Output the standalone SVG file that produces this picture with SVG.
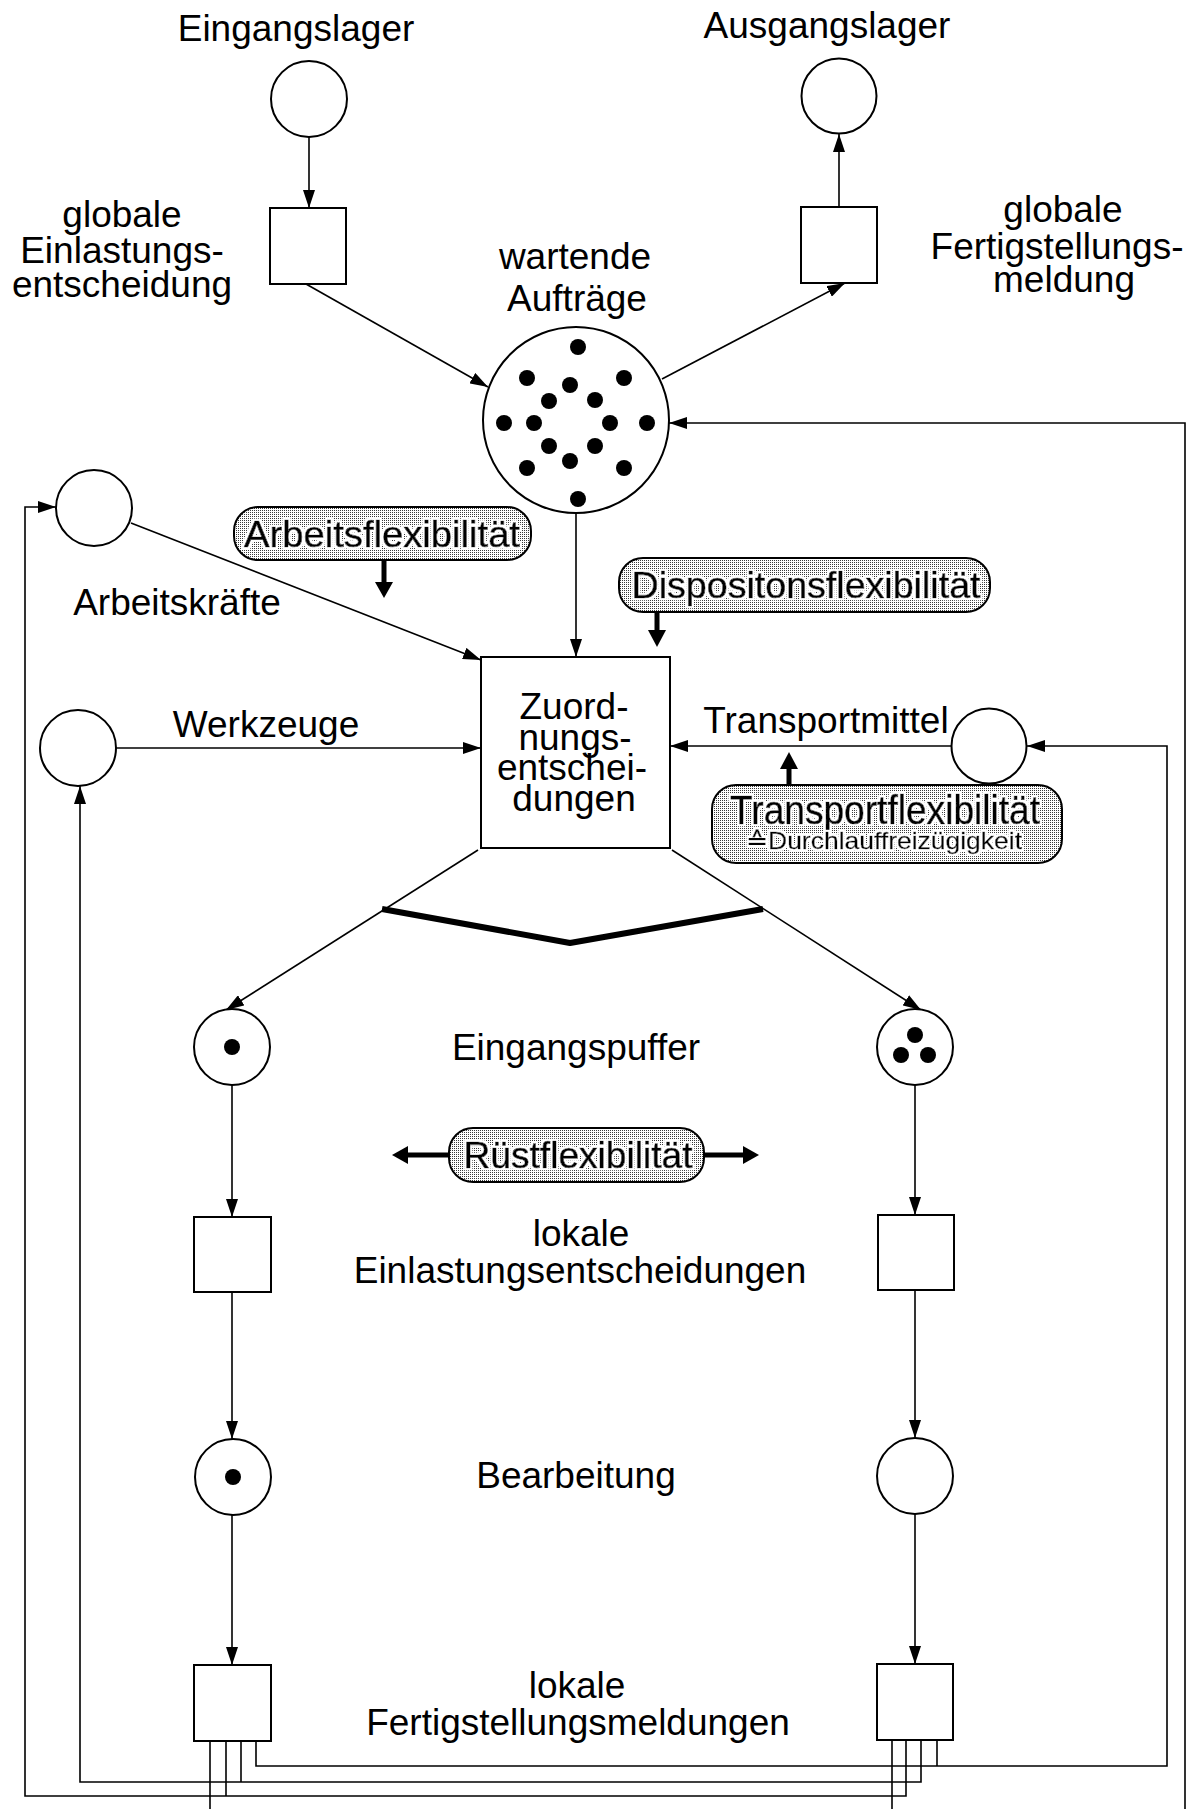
<svg xmlns="http://www.w3.org/2000/svg" width="1203" height="1809" viewBox="0 0 1203 1809">
  <style>
    .lbl { font-family: "Liberation Sans", Arial, Helvetica, sans-serif; font-size: 37px; text-anchor: middle; fill: #000; }
    .flex { font-family: "Liberation Sans", Arial, Helvetica, sans-serif; font-size: 37px; text-anchor: middle; fill: #000; stroke: #000; stroke-width: 0.7px; filter: url(#halo); }
    .small { font-size: 24px; stroke-width: 0.4px; }
    .place { fill: #fff; stroke: #000; stroke-width: 2; }
    .trans { fill: #fff; stroke: #000; stroke-width: 2; }
    .token { fill: #000; }
    .pill { fill: url(#stipple); stroke: #000; stroke-width: 2; }
    .arc { fill: none; stroke: #000; stroke-width: 1.6; }
    .arrow { marker-end: url(#head); }
    .thick { fill: none; stroke: #000; stroke-width: 5; }
    .thickhead { fill: #000; }
  </style>
  <defs>
    <marker id="head" markerUnits="userSpaceOnUse" markerWidth="18" markerHeight="12" refX="18" refY="6" orient="auto">
      <path d="M0,0 L18,6 L0,12 Z" fill="#000"/>
    </marker>
    <pattern id="stipple" patternUnits="userSpaceOnUse" width="2" height="2">
      <rect width="2" height="2" fill="#fff"/>
      <rect width="1" height="1" fill="#3a3a3a"/>
    </pattern>
    <!-- white rim around lettering on the stippled pills -->
    <filter id="halo" x="-5%" y="-25%" width="110%" height="150%">
      <feMorphology in="SourceAlpha" operator="dilate" radius="2" result="wide"/>
      <feFlood flood-color="#fff"/>
      <feComposite in2="wide" operator="in" result="rim"/>
      <feMerge>
        <feMergeNode in="rim"/>
        <feMergeNode in="SourceGraphic"/>
      </feMerge>
    </filter>
  </defs>

  <rect width="1203" height="1809" fill="#fff"/>

  <!-- connectors -->
  <g id="connectors">
    <path class="arc arrow" d="M309,137 V208"/>
    <path class="arc arrow" d="M306,284 L488,387"/>
    <path class="arc arrow" d="M662,379 L845,283"/>
    <path class="arc arrow" d="M839,207 V134"/>
    <path class="arc arrow" d="M576,513 V657"/>
    <path class="arc arrow" d="M131,523 L481,660"/>
    <path class="arc arrow" d="M116,748 H481"/>
    <path class="arc arrow" d="M951,746 H670"/>
    <path class="arc arrow" d="M478,850 L226,1010"/>
    <path class="arc arrow" d="M672,850 L921,1010"/>

    <!-- left station -->
    <path class="arc arrow" d="M232,1085 V1217"/>
    <path class="arc arrow" d="M232,1292 V1439"/>
    <path class="arc arrow" d="M232,1515 V1665"/>
    <!-- right station -->
    <path class="arc arrow" d="M915,1085 V1215"/>
    <path class="arc arrow" d="M915,1290 V1438"/>
    <path class="arc arrow" d="M915,1514 V1664"/>

    <!-- return of transport means -->
    <path class="arc arrow" d="M256,1741 V1766 H1167 V746 H1027"/>
    <path class="arc" d="M937,1740 V1766"/>
    <!-- return of tools -->
    <path class="arc arrow" d="M921,1740 V1782 H80 V786"/>
    <path class="arc" d="M241,1741 V1782"/>
    <!-- return of workers -->
    <path class="arc arrow" d="M906,1740 V1796 H25 V507 H56"/>
    <path class="arc" d="M226,1741 V1796"/>
    <!-- return of orders -->
    <path class="arc" d="M210,1741 V1809"/>
    <path class="arc" d="M892,1740 V1809"/>
    <path class="arc arrow" d="M1185,1809 V423 H669"/>

    <!-- branching bar -->
    <path d="M382,909 L570,943 L763,909" fill="none" stroke="#000" stroke-width="6" stroke-linejoin="round"/>
  </g>

  <!-- places and transitions -->
  <g id="eingangslager">
    <circle class="place" cx="309" cy="99" r="38"/>
    <text class="lbl" x="296" y="41">Eingangslager</text>
  </g>
  <g id="ausgangslager">
    <circle class="place" cx="839" cy="96" r="37.5"/>
    <text class="lbl" x="827" y="38">Ausgangslager</text>
  </g>
  <g id="globale-einlastung">
    <rect class="trans" x="270" y="208" width="76" height="76"/>
    <text class="lbl" x="122" y="227">globale</text>
    <text class="lbl" x="122" y="263">Einlastungs-</text>
    <text class="lbl" x="122" y="297">entscheidung</text>
  </g>
  <g id="globale-fertigstellung">
    <rect class="trans" x="801" y="207" width="76" height="76"/>
    <text class="lbl" x="1063" y="222">globale</text>
    <text class="lbl" x="1057" y="259">Fertigstellungs-</text>
    <text class="lbl" x="1064" y="292">meldung</text>
  </g>
  <g id="wartende-auftraege">
    <circle class="place" cx="576" cy="420" r="93"/>
    <g class="token">
      <circle cx="578" cy="347" r="8"/>
      <circle cx="527" cy="378" r="8"/>
      <circle cx="624" cy="378" r="8"/>
      <circle cx="570" cy="385" r="8"/>
      <circle cx="549" cy="401" r="8"/>
      <circle cx="595" cy="400" r="8"/>
      <circle cx="504" cy="423" r="8"/>
      <circle cx="534" cy="423" r="8"/>
      <circle cx="610" cy="423" r="8"/>
      <circle cx="647" cy="423" r="8"/>
      <circle cx="549" cy="446" r="8"/>
      <circle cx="595" cy="446" r="8"/>
      <circle cx="527" cy="468" r="8"/>
      <circle cx="570" cy="461" r="8"/>
      <circle cx="624" cy="468" r="8"/>
      <circle cx="578" cy="499" r="8"/>
    </g>
    <text class="lbl" x="575" y="269">wartende</text>
    <text class="lbl" x="577" y="311">Aufträge</text>
  </g>
  <g id="arbeitskraefte">
    <circle class="place" cx="94" cy="508" r="38"/>
    <text class="lbl" x="177" y="615">Arbeitskräfte</text>
  </g>
  <g id="werkzeuge">
    <circle class="place" cx="78" cy="748" r="38"/>
    <text class="lbl" x="266" y="737">Werkzeuge</text>
  </g>
  <g id="transportmittel">
    <circle class="place" cx="989" cy="746" r="37.5"/>
    <text class="lbl" x="826" y="733">Transportmittel</text>
  </g>
  <g id="zuordnung">
    <rect class="trans" x="481" y="657" width="189" height="191"/>
    <text class="lbl" x="574" y="719">Zuord-</text>
    <text class="lbl" x="575" y="750">nungs-</text>
    <text class="lbl" x="572" y="780">entschei-</text>
    <text class="lbl" x="574" y="811">dungen</text>
  </g>

  <g id="arbeitsflexibilitaet">
    <rect class="pill" x="234" y="507" width="297" height="53" rx="24"/>
    <text class="flex" x="382" y="547" textLength="276" lengthAdjust="spacingAndGlyphs">Arbeitsflexibilität</text>
    <line class="thick" x1="384" y1="560" x2="384" y2="584"/>
    <polygon class="thickhead" points="375,582 393,582 384,598"/>
  </g>
  <g id="dispositionsflexibilitaet">
    <rect class="pill" x="619" y="558" width="371" height="54" rx="24"/>
    <text class="flex" x="806" y="598" textLength="349" lengthAdjust="spacingAndGlyphs">Dispositonsflexibilität</text>
    <line class="thick" x1="657" y1="612" x2="657" y2="632"/>
    <polygon class="thickhead" points="648,630 666,630 657,647"/>
  </g>
  <g id="transportflexibilitaet">
    <rect class="pill" x="712" y="785" width="350" height="78" rx="24"/>
    <text class="flex" x="885" y="824" style="font-size:40px" textLength="310" lengthAdjust="spacingAndGlyphs">Transportflexibilität</text>
    <text class="flex small" x="884" y="849" textLength="276" lengthAdjust="spacingAndGlyphs">≙Durchlauffreizügigkeit</text>
    <line class="thick" x1="789" y1="785" x2="789" y2="767"/>
    <polygon class="thickhead" points="780,769 798,769 789,752"/>
  </g>
  <g id="ruestflexibilitaet">
    <rect class="pill" x="449" y="1128" width="255" height="54" rx="24"/>
    <text class="flex" x="578" y="1168" textLength="229" lengthAdjust="spacingAndGlyphs">Rüstflexibilität</text>
    <line class="thick" x1="449" y1="1155" x2="406" y2="1155"/>
    <polygon class="thickhead" points="408,1146 408,1164 392,1155"/>
    <line class="thick" x1="704" y1="1155" x2="745" y2="1155"/>
    <polygon class="thickhead" points="743,1146 743,1164 759,1155"/>
  </g>

  <g id="eingangspuffer-links">
    <circle class="place" cx="232" cy="1047" r="38"/>
    <circle class="token" cx="232" cy="1047" r="8"/>
  </g>
  <g id="eingangspuffer-rechts">
    <circle class="place" cx="915" cy="1047" r="38"/>
    <circle class="token" cx="915" cy="1035" r="8"/>
    <circle class="token" cx="901" cy="1055" r="8"/>
    <circle class="token" cx="928" cy="1055" r="8"/>
  </g>
  <g id="eingangspuffer-label">
    <text class="lbl" x="576" y="1060">Eingangspuffer</text>
  </g>
  <g id="einlastung-links">
    <rect class="trans" x="194" y="1217" width="77" height="75"/>
  </g>
  <g id="einlastung-rechts">
    <rect class="trans" x="878" y="1215" width="76" height="75"/>
  </g>
  <g id="einlastung-label">
    <text class="lbl" x="581" y="1246">lokale</text>
    <text class="lbl" x="580" y="1283">Einlastungsentscheidungen</text>
  </g>
  <g id="bearbeitung-links">
    <circle class="place" cx="233" cy="1477" r="38"/>
    <circle class="token" cx="233" cy="1477" r="8"/>
  </g>
  <g id="bearbeitung-rechts">
    <circle class="place" cx="915" cy="1476" r="38"/>
  </g>
  <g id="bearbeitung-label">
    <text class="lbl" x="576" y="1488">Bearbeitung</text>
  </g>
  <g id="fertigstellung-links">
    <rect class="trans" x="194" y="1665" width="77" height="76"/>
  </g>
  <g id="fertigstellung-rechts">
    <rect class="trans" x="877" y="1664" width="76" height="76"/>
  </g>
  <g id="fertigstellung-label">
    <text class="lbl" x="577" y="1698">lokale</text>
    <text class="lbl" x="578" y="1735">Fertigstellungsmeldungen</text>
  </g>
</svg>
